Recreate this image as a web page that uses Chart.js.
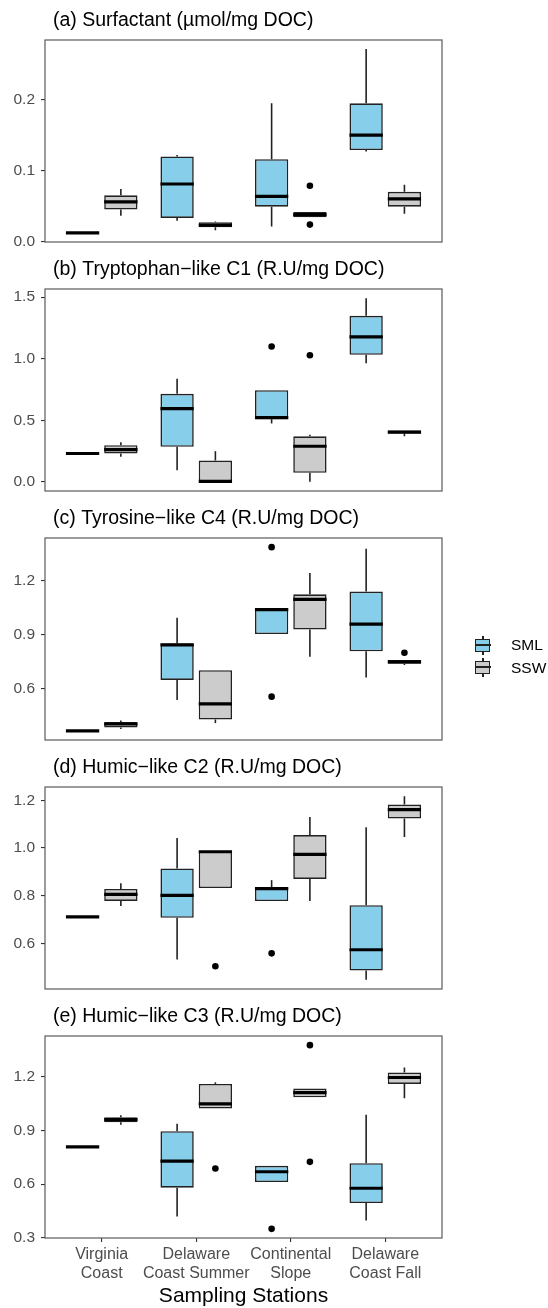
<!DOCTYPE html>
<html>
<head>
<meta charset="utf-8">
<script src="https://cdn.jsdelivr.net/npm/chart.js@4.4.1/dist/chart.umd.min.js"></script>
<style>
  html, body { margin: 0; padding: 0; background: #fff; }
  body { width: 548px; height: 1308px; position: relative; overflow: hidden;
         font-family: "Liberation Sans", Arial, sans-serif; }
  canvas.panel { position: absolute; left: 0; }
  #legend { position: absolute; left: 474px; top: 634px; }
  .item { display: flex; align-items: center; height: 22.5px; }
  .key { position: relative; width: 17px; height: 19px; margin-right: 20px; }
  .key .w { position: absolute; left: 8px; top: 0; width: 1.5px; height: 19px; background: #222; }
  .key .b { position: absolute; left: 1px; top: 3px; width: 13px; height: 11px; border: 1.5px solid #222; }
  .key .m { position: absolute; left: 1px; top: 8px; width: 16px; height: 2px; background: #222; }
  .lab { font-size: 15.5px; color: #000; }
</style>
</head>
<body>
<canvas id="p0" class="panel"></canvas>
<canvas id="p1" class="panel"></canvas>
<canvas id="p2" class="panel"></canvas>
<canvas id="p3" class="panel"></canvas>
<canvas id="p4" class="panel"></canvas>
<div id="legend"></div>
<script>
// ---------------- data ----------------
const stations = [["Virginia", "Coast"], ["Delaware", "Coast Summer"], ["Continental", "Slope"], ["Delaware", "Coast Fall"]];
const groupNames = ["SML", "SSW"];
const panelTitles = [
  "(a) Surfactant (\u00b5mol/mg DOC)",
  "(b) Tryptophan\u2212like C1 (R.U/mg DOC)",
  "(c) Tyrosine\u2212like C4 (R.U/mg DOC)",
  "(d) Humic\u2212like C2 (R.U/mg DOC)",
  "(e) Humic\u2212like C3 (R.U/mg DOC)"
];
const xAxisTitle = "Sampling Stations";

// box statistics per station: [lower whisker, Q1, median, Q3, upper whisker]
const surfactantSML = [[0.012,0.012,0.012,0.012,0.012],[0.029,0.033,0.081,0.120,0.122],[0.021,0.049,0.0635,0.116,0.195],[0.127,0.129,0.150,0.195,0.272]];
const surfactantSSW = [[0.036,0.045,0.0556,0.065,0.074],[0.0155,0.020,0.023,0.027,0.028],[0.034,0.034,0.0377,0.0415,0.0415],[0.039,0.049,0.060,0.070,0.080]];
const surfactantSMLOut = [[],[],[],[]];
const surfactantSSWOut = [[],[],[0.0786,0.0236],[]];

const tryptophanSML = [[0.23,0.23,0.23,0.23,0.23],[0.094,0.284,0.595,0.715,0.837],[0.474,0.509,0.522,0.744,0.744],[0.963,1.032,1.178,1.349,1.492]];
const tryptophanSSW = [[0.203,0.23,0.262,0.297,0.322],[0.0,0.0,0.003,0.173,0.249],[0.0,0.073,0.289,0.370,0.382],[0.370,0.392,0.403,0.417,0.417]];
const tryptophanSMLOut = [[],[],[1.10],[]];
const tryptophanSSWOut = [[],[],[1.028],[]];

const tyrosineSML = [[0.367,0.367,0.367,0.367,0.367],[0.539,0.650,0.845,0.853,0.995],[0.905,0.905,1.041,1.045,1.045],[0.663,0.809,0.960,1.141,1.379]];
const tyrosineSSW = [[0.377,0.386,0.405,0.416,0.425],[0.410,0.430,0.517,0.704,0.704],[0.779,0.930,1.098,1.126,1.244],[0.733,0.740,0.750,0.761,0.761]];
const tyrosineSMLOut = [[],[],[1.388,0.557],[]];
const tyrosineSSWOut = [[],[],[],[0.801]];

const humicC2SML = [[0.711,0.711,0.711,0.711,0.711],[0.532,0.707,0.801,0.914,1.042],[0.777,0.777,0.829,0.833,0.865],[0.447,0.486,0.573,0.760,1.087]];
const humicC2SSW = [[0.757,0.778,0.805,0.828,0.852],[0.832,0.832,0.984,0.988,0.988],[0.778,0.870,0.973,1.054,1.130],[1.046,1.123,1.161,1.182,1.217]];
const humicC2SMLOut = [[],[],[0.558],[]];
const humicC2SSWOut = [[],[0.504],[],[]];

const humicC3SML = [[0.807,0.807,0.807,0.807,0.807],[0.420,0.580,0.728,0.895,0.936],[0.612,0.612,0.669,0.702,0.702],[0.397,0.495,0.577,0.717,0.986]];
const humicC3SSW = [[0.931,0.944,0.959,0.973,0.984],[1.021,1.021,1.047,1.158,1.167],[1.084,1.084,1.110,1.133,1.133],[1.078,1.158,1.194,1.222,1.250]];
const humicC3SMLOut = [[],[],[0.351],[]];
const humicC3SSWOut = [[],[0.687],[1.374,0.724],[]];

// y tick labels and axis limits per panel
const yTicksA = [0.0, 0.1, 0.2];
const yTicksB = [0.0, 0.5, 1.0, 1.5];
const yTicksC = [0.6, 0.9, 1.2];
const yTicksD = [0.6, 0.8, 1.0, 1.2];
const yTicksE = [0.3, 0.6, 0.9, 1.2];
const yLimitsA = [-0.001, 0.2846];
const yLimitsB = [-0.0746, 1.5666];
const yLimitsC = [0.316, 1.439];
const yLimitsD = [0.4085, 1.2555];
const yLimitsE = [0.300, 1.425];

// ---------------- styles / layout ----------------
const FONT = "'Liberation Sans', Arial, sans-serif";
const fillColors = ["#87CEEB", "#CCCCCC"];
const W = 548, PAD_TOP = 32, FRAME_H = 202, PAD_BOTTOM = 16;
const frameTops = [40, 289, 538, 787, 1036];

const panels = [
  { stats: [surfactantSML, surfactantSSW], out: [surfactantSMLOut, surfactantSSWOut], ticks: yTicksA, lim: yLimitsA },
  { stats: [tryptophanSML, tryptophanSSW], out: [tryptophanSMLOut, tryptophanSSWOut], ticks: yTicksB, lim: yLimitsB },
  { stats: [tyrosineSML, tyrosineSSW], out: [tyrosineSMLOut, tyrosineSSWOut], ticks: yTicksC, lim: yLimitsC },
  { stats: [humicC2SML, humicC2SSW], out: [humicC2SMLOut, humicC2SSWOut], ticks: yTicksD, lim: yLimitsD },
  { stats: [humicC3SML, humicC3SSW], out: [humicC3SMLOut, humicC3SSWOut], ticks: yTicksE, lim: yLimitsE }
];

// whiskers, medians, outliers, frame and panel title, positioned through the chart's scales / bar elements
const boxExtras = {
  id: 'boxExtras',
  beforeDatasetsDraw(chart, args, opts) {
    const ctx = chart.ctx, ys = chart.scales.y;
    ctx.save();
    ctx.strokeStyle = '#222';
    ctx.lineWidth = 1.6;
    opts.stats.forEach((stats, di) => {
      const meta = chart.getDatasetMeta(di);
      meta.data.forEach((bar, i) => {
        const s = stats[i];
        const x = bar.x;
        ctx.beginPath();
        ctx.moveTo(x, ys.getPixelForValue(s[3])); ctx.lineTo(x, ys.getPixelForValue(s[4]));
        ctx.moveTo(x, ys.getPixelForValue(s[1])); ctx.lineTo(x, ys.getPixelForValue(s[0]));
        ctx.stroke();
      });
    });
    ctx.restore();
  },
  afterDatasetsDraw(chart, args, opts) {
    const ctx = chart.ctx, ys = chart.scales.y;
    ctx.save();
    opts.stats.forEach((stats, di) => {
      const meta = chart.getDatasetMeta(di);
      meta.data.forEach((bar, i) => {
        const s = stats[i];
        const x = bar.x, w = bar.width;
        const ym = ys.getPixelForValue(s[2]);
        ctx.strokeStyle = '#000';
        ctx.lineWidth = 3.2;
        ctx.beginPath();
        ctx.moveTo(x - w / 2, ym); ctx.lineTo(x + w / 2, ym);
        ctx.stroke();
        ctx.fillStyle = '#000';
        opts.out[di][i].forEach(v => {
          ctx.beginPath();
          ctx.arc(x, ys.getPixelForValue(v), 3.3, 0, Math.PI * 2);
          ctx.fill();
        });
      });
    });
    ctx.restore();
  },
  afterDraw(chart, args, opts) {
    const ctx = chart.ctx, a = chart.chartArea;
    ctx.save();
    ctx.strokeStyle = '#5a5a5a';
    ctx.lineWidth = 1.2;
    ctx.strokeRect(a.left, a.top, a.right - a.left, a.bottom - a.top);
    ctx.fillStyle = '#000';
    ctx.font = "19.5px " + FONT;
    ctx.textBaseline = 'middle';
    ctx.textAlign = 'left';
    ctx.fillText(opts.title, a.left + 8, a.top - 19);
    ctx.restore();
  }
};

panels.forEach((p, k) => {
  const isLast = k === panels.length - 1;
  const canvas = document.getElementById('p' + k);
  const top = frameTops[k] - PAD_TOP;
  const h = isLast ? 1308 - top : PAD_TOP + FRAME_H + PAD_BOTTOM;
  canvas.width = W; canvas.height = h;
  canvas.style.top = top + 'px';
  canvas.style.width = W + 'px'; canvas.style.height = h + 'px';

  const datasets = p.stats.map((stats, di) => ({
    label: groupNames[di],
    data: stats.map((s, i) => ({ x: i + 1, y: [s[1], s[3]] })),
    backgroundColor: fillColors[di],
    borderColor: '#222',
    borderWidth: 1.6,
    borderSkipped: false,
    categoryPercentage: 0.81,
    barPercentage: 0.87
  }));

  new Chart(canvas, {
    type: 'bar',
    data: { datasets },
    plugins: [boxExtras],
    options: {
      responsive: false,
      animation: false,
      devicePixelRatio: 1,
      layout: { padding: { left: 0, right: 106, top: PAD_TOP, bottom: isLast ? 0 : PAD_BOTTOM } },
      plugins: {
        legend: { display: false },
        tooltip: { enabled: false },
        boxExtras: { stats: p.stats, out: p.out, title: panelTitles[k] }
      },
      scales: {
        x: {
          type: 'linear',
          min: 0.4, max: 4.6,
          offset: false,
          display: isLast,
          afterBuildTicks: s => { s.ticks = stations.map((st, i) => ({ value: i + 1 })); },
          afterFit: s => { s.height = isLast ? 70 : 0; },
          grid: { display: true, offset: false, drawOnChartArea: false, drawTicks: true, tickLength: 4, color: '#333', lineWidth: 1.1 },
          border: { display: false },
          ticks: {
            autoSkip: false, maxRotation: 0, padding: 3,
            color: '#4d4d4d',
            font: { size: 16, family: FONT },
            callback: v => stations[Math.round(v) - 1]
          },
          title: { display: true, text: xAxisTitle, color: '#000', font: { size: 21, family: FONT, lineHeight: 1 }, padding: { top: 0, bottom: 1 } }
        },
        y: {
          min: p.lim[0], max: p.lim[1],
          afterBuildTicks: s => { s.ticks = p.ticks.map(v => ({ value: v })); },
          afterFit: s => { s.width = 45; },
          grid: { display: true, drawOnChartArea: false, drawTicks: true, tickLength: 4, color: '#333', lineWidth: 1.1 },
          border: { display: false },
          ticks: {
            padding: 6,
            color: '#4d4d4d',
            font: { size: 15.5, family: FONT },
            callback: v => v.toFixed(1)
          }
        }
      }
    }
  });
});

// legend
const legend = document.getElementById('legend');
groupNames.forEach((name, i) => {
  const item = document.createElement('div');
  item.className = 'item';
  item.innerHTML = '<div class="key"><div class="w"></div><div class="b" style="background:' + fillColors[i] + '"></div><div class="m"></div></div><span class="lab">' + name + '</span>';
  legend.appendChild(item);
});
</script>
</body>
</html>
